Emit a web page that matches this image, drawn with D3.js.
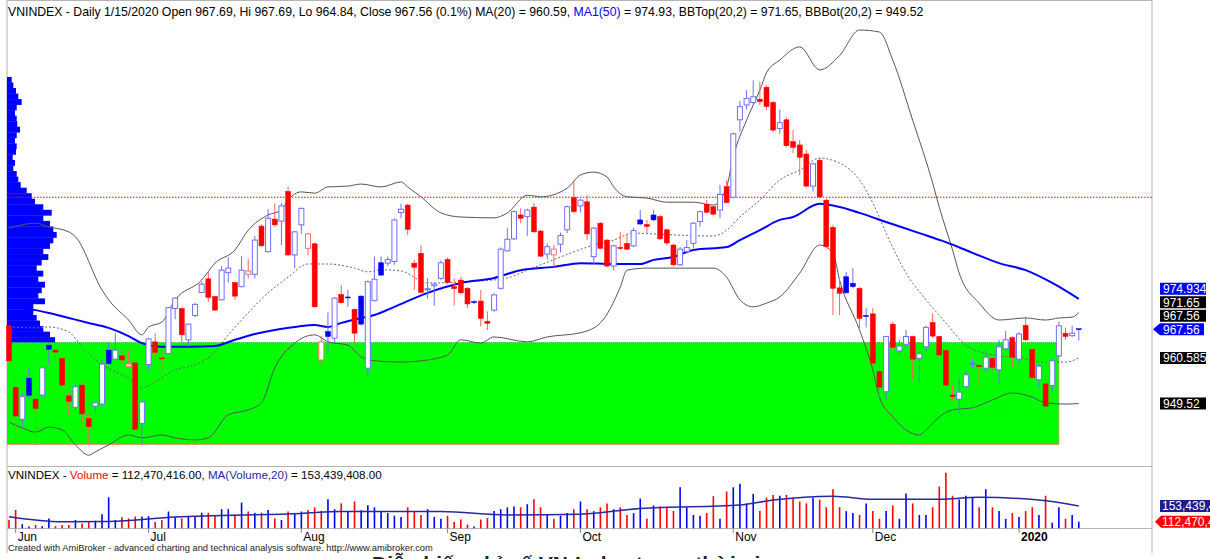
<!DOCTYPE html>
<html>
<head>
<meta charset="utf-8">
<script src="https://cdn.jsdelivr.net/npm/d3@7"></script>
<style>
body { margin: 0; background: #fff; }
svg { display: block; font-family: "Liberation Sans", Arial, sans-serif; }
</style>
</head>
<body>
<div id="chart"></div>
<script>
// daily bars, 5/31/2019 .. 1/15/2020
var opens = [968.4,953.5,945.7,955.7,950.6,951.6,963.7,962.5,960.5,951.4,948.6,954.0,945.9,948.9,949.4,962.5,960.3,961.1,958.5,959.4,
  944.7,959.0,964.5,960.6,961.7,972.6,972.6,965.0,970.9,976.5,979.8,975.5,974.7,981.3,978.9,977.9,980.9,980.9,992.6,986.4,
  994.3,993.8,1001.0,985.6,992.9,987.2,988.3,960.1,967.0,965.4,976.0,975.4,972.4,975.6,958.1,974.5,983.7,983.6,984.0,995.9,
  997.7,983.6,986.0,977.2,978.1,979.9,984.5,977.9,979.5,977.5,974.3,974.4,969.5,972.2,977.5,986.6,989.5,995.3,994.9,997.2,
  991.4,985.8,985.6,988.2,991.7,999.5,997.5,998.5,985.2,993.3,989.2,982.9,987.4,988.4,987.8,994.1,993.0,995.3,994.9,991.7,
  988.0,983.2,986.4,988.4,993.7,997.9,997.3,996.5,1002.2,999.6,1018.4,1022.0,1022.6,1023.4,1026.3,1022.6,1016.3,1018.4,1013.1,1012.3,
  1010.1,1002.3,1008.6,998.9,992.3,977.6,980.3,978.7,977.5,970.9,971.3,957.3,952.4,968.8,962.3,963.9,965.8,960.5,963.3,969.2,
  965.8,962.4,951.6,950.6,953.6,959.2,958.8,958.1,960.5,957.7,962.8,965.5,960.3,968.5,962.7,955.3,954.3,953.9,961.1,966.6,
  966.0,967.69];
var highs = [968.5,955.7,952.1,958.1,951.1,958.5,963.9,964.3,960.6,952.3,954.6,954.8,947.2,949.9,960.1,964.3,966.6,962.9,962.5,959.6,
  950.2,965.5,966.6,962.9,973.0,975.3,972.8,969.0,974.0,979.1,981.5,975.6,982.9,985.0,979.0,985.4,984.6,990.2,993.0,996.7,
  998.1,998.2,1002.2,991.4,997.1,991.0,988.6,965.9,971.6,975.3,978.3,977.1,972.6,975.8,979.4,985.2,985.2,985.2,994.5,998.0,
  998.0,984.4,988.0,980.0,978.8,984.3,985.0,979.9,980.3,977.8,974.6,977.1,971.9,976.3,987.4,992.1,996.4,996.9,996.8,998.2,
  991.7,988.4,988.0,991.0,997.6,1003.4,999.2,1000.1,992.4,993.6,989.5,988.1,991.2,990.7,992.2,996.5,994.1,996.5,995.2,992.0,
  988.3,987.5,989.2,993.6,996.4,998.9,997.6,1002.6,1003.8,1015.3,1023.0,1025.6,1028.0,1027.6,1026.8,1023.0,1020.9,1019.0,1015.9,1013.5,
  1011.1,1008.0,1009.0,999.2,992.9,979.9,981.5,982.4,977.8,972.7,972.7,960.5,966.0,969.4,965.0,967.4,966.0,962.0,968.5,971.4,
  966.0,962.6,954.0,955.7,957.4,960.5,959.0,962.5,960.7,965.0,967.2,966.0,966.9,970.5,962.9,959.0,957.0,960.5,969.4,968.0,
  968.4,967.69];
var lows = [959.5,940.7,943.6,950.6,939.5,951.0,958.9,959.9,953.8,946.5,947.6,944.7,939.5,947.2,949.2,958.9,959.9,959.1,958.4,943.0,
  939.5,957.7,960.1,957.0,961.5,970.0,964.3,963.3,970.5,976.3,974.2,972.0,974.5,978.9,974.7,977.7,979.9,979.9,987.6,986.2,
  992.5,988.0,985.4,982.4,990.7,985.5,972.8,958.5,961.7,964.5,973.8,973.0,964.3,968.5,956.0,974.3,980.5,982.9,983.2,994.5,
  990.4,977.1,976.3,975.0,973.3,979.5,978.5,973.3,976.0,972.7,973.7,968.2,967.4,971.8,977.2,986.4,989.2,993.3,990.2,991.0,
  985.0,984.5,982.7,986.2,990.9,995.8,995.9,989.2,983.2,987.0,982.6,981.9,986.8,986.8,987.5,992.8,990.7,993.8,989.2,988.0,
  983.0,982.9,986.0,987.2,992.4,995.7,995.2,994.5,998.1,999.3,1015.5,1020.9,1022.0,1022.0,1020.8,1015.4,1015.0,1011.8,1010.3,1005.0,
  1002.0,1001.0,999.4,987.3,971.0,971.0,976.2,977.5,967.8,968.0,959.0,951.2,950.4,962.5,961.3,962.9,955.3,954.8,962.0,965.5,
  960.5,953.8,950.0,947.0,953.3,958.1,953.6,957.1,957.7,954.3,962.5,958.1,959.3,964.7,955.6,953.6,945.5,952.4,960.8,965.0,
  965.7,964.84];
var closes = [959.9,946.5,951.2,951.5,948.3,958.2,962.7,962.0,954.0,950.1,953.6,947.0,943.9,949.7,959.1,959.2,962.5,960.1,959.1,943.3,
  949.9,965.2,961.9,960.5,972.8,975.1,966.2,968.8,973.6,978.5,975.3,972.2,981.9,982.4,975.6,981.9,981.7,989.2,987.8,994.5,
  992.9,997.5,985.6,991.2,996.9,990.7,973.0,964.5,965.8,975.1,974.0,975.2,966.6,968.8,979.1,979.7,980.7,984.5,994.1,996.7,
  991.8,982.6,976.5,977.4,978.5,983.7,978.9,977.4,976.4,973.7,974.0,970.2,969.0,975.9,987.0,989.4,996.1,994.5,996.5,991.2,
  985.3,987.6,987.0,990.3,997.3,996.1,998.9,990.7,992.1,987.2,982.9,987.8,987.2,987.0,991.5,993.1,992.5,994.1,989.5,988.5,
  983.2,987.0,987.4,993.3,996.1,995.95,995.5,1000.3,998.3,1015.0,1021.6,1023.6,1024.0,1022.8,1021.6,1015.9,1017.7,1012.1,1011.7,1009.3,
  1002.3,1007.7,999.7,987.6,977.5,976.3,976.4,977.9,970.2,970.65,959.3,953.5,965.8,963.2,963.5,965.8,960.3,961.6,968.0,965.9,
  961.3,954.0,951.2,952.3,956.5,959.3,958.5,960.8,958.3,963.3,965.0,960.8,966.4,965.0,955.8,958.6,948.9,959.9,968.4,965.8,
  966.6,967.56];
// volume, million shares
var volumes = [117,143,106,100,104,101,121,101,104,104,117,108,112,115,132,176,117,124,121,126,
  126,127,112,117,139,124,121,127,127,136,136,130,145,145,130,162,139,136,136,143,
  121,117,139,134,139,143,150,141,171,145,160,138,165,142,155,150,140,135,128,125,
  150,140,130,145,125,120,128,112,118,105,100,118,122,140,145,150,152,150,158,171,
  150,130,120,128,135,145,165,145,140,150,160,145,150,130,135,173,120,155,152,150,
  140,202,150,130,128,135,179,120,191,202,211,160,185,140,175,182,180,182,175,165,
  160,175,170,150,197,150,140,135,130,160,140,120,140,155,120,186,160,130,130,150,
  204,240,180,170,180,175,150,197,150,140,120,135,125,140,150,130,180,110,150,120,
  130,112.47];

// indicator readings: [bar index, value]
var bbTop = [[0,992.1],[4,993.3],[6,992.4],[9,991.2],[10,990.0],[14,977.1],[15,974.7],[18,969.8],[20,966.2],[21,968.1],
  [23,969.3],[25,974.7],[29,979.5],[31,983.6],[34,986.8],[36,991.6],[39,995.3],[41,996.5],[42,998.9],[44,1000.9],
  [46,1000.6],[48,1002.1],[51,1002.3],[53,1002.8],[56,1002.1],[59,1003.3],[60,1002.1],[62,999.7],[65,995.8],[68,994.8],
  [73,994.6],[75,995.8],[78,1000.1],[80,999.7],[84,1001.8],[86,1005.0],[88,1005.7],[90,1004.5],[91,1002.1],[93,999.7],
  [96,999.4],[99,998.4],[103,998.4],[106,997.7],[108,1002.1],[109,1009.4],[111,1018.3],[113,1025.6],[114,1029.8],[116,1032.9],
  [119,1036.1],[122,1030.5],[125,1034.0],[128,1040.2],[131,1039.7],[133,1032.9],[136,1018.3],[139,1003.1],[140,997.2],[142,986.8],
  [143,981.2],[146,973.9],[149,969.8],[153,970.3],[156,969.8],[158,970.3],[160,970.5],[161,971.65]];
var bbBot = [[0,945.0],[2,943.6],[4,942.6],[6,943.8],[8,943.1],[10,939.5],[12,937.0],[13,937.8],[15,939.5],[18,941.9],
  [20,941.2],[23,941.9],[25,941.2],[28,940.7],[30,941.2],[33,946.8],[36,948.0],[38,949.7],[40,958.2],[43,964.2],
  [46,966.2],[48,964.5],[51,963.7],[53,960.8],[54,960.1],[59,959.6],[63,960.1],[66,961.3],[68,965.0],[71,964.2],
  [73,965.7],[78,964.5],[81,965.7],[86,966.7],[89,969.1],[92,977.8],[93,981.9],[96,982.4],[106,982.4],[108,980.2],
  [110,974.7],[112,973.0],[114,973.9],[116,975.4],[119,981.2],[122,988.0],[124,986.1],[125,979.5],[128,967.4],[130,957.7],
  [131,951.1],[133,946.3],[137,941.9],[138,943.1],[140,946.3],[142,948.0],[145,948.5],[148,950.4],[151,952.1],[154,951.1],
  [156,949.7],[159,949.4],[161,949.52]];
var ma20 = [[0,968.1],[4,967.9],[6,968.1],[9,966.9],[11,963.3],[14,958.9],[16,957.2],[18,955.7],[20,953.3],[22,954.8],
  [25,957.7],[28,958.9],[31,962.0],[33,966.2],[35,969.8],[39,976.4],[42,980.2],[45,983.4],[48,983.4],[52,982.4],
  [54,981.5],[56,982.0],[59,981.7],[63,978.8],[71,979.3],[75,980.0],[78,981.9],[83,985.1],[87,987.5],[91,989.2],
  [94,990.9],[97,990.7],[101,990.4],[106,990.2],[108,991.6],[110,994.8],[113,998.9],[116,1003.8],[119,1006.2],[122,1009.1],
  [125,1007.9],[128,1003.8],[130,998.2],[132,990.9],[135,981.2],[138,974.7],[141,969.1],[144,963.7],[148,961.3],[152,960.6],
  [156,959.6],[159,959.6],[161,960.585]];
var ma50 = [[0,973.2],[4,972.2],[6,971.5],[9,970.3],[12,969.1],[15,967.9],[18,965.9],[20,964.2],[23,963.3],[27,963.3],
  [31,963.5],[34,965.0],[37,966.4],[40,967.4],[43,968.1],[46,968.6],[48,968.1],[50,969.1],[53,970.3],[55,971.0],
  [58,973.0],[63,976.4],[68,978.8],[73,980.0],[77,981.9],[82,982.7],[86,983.6],[91,983.4],[95,983.4],[97,984.4],
  [100,985.1],[103,986.8],[108,987.5],[110,989.2],[113,991.6],[116,994.1],[118,994.8],[122,998.0],[128,995.8],[132,993.6],
  [137,990.9],[141,988.7],[145,986.1],[149,983.6],[153,981.9],[157,978.8],[161,974.934]];
var volMA20 = [[0,125.6],[8,112.6],[15,113],[25,125],[44,134],[50,139],[65,139],[75,130],[86,132],[95,147],
  [110,156],[115,169],[124,179],[130,171],[140,171],[146,176],[155,169],[161,153.4]];

// volume-at-price profile, top bin first (1028.8 down to 964.3)
var profileVol = [4.7,6.3,9.0,11.3,14.7,9.7,8.0,9.7,10.3,13.0,9.7,8.0,9.7,9.0,5.7,8.0,6.3,9.7,11.3,13.7,
  19.7,24.7,28.0,36.3,44.7,36.3,43.0,46.3,49.7,46.3,43.0,36.3,41.3,34.7,29.7,36.3,31.3,38.0,34.7,31.3,
  38.0,26.3,26.3,29.7,33.0,36.3,43.0,48.0];
var profileTop = 1028.8, profileBottom = 964.3;
var valueHigh = 999.6;           // red dotted level
var zoneTop = 964.35, zoneBottom = 939.6, zoneEnd = 158;

var monthNames = ["Jun","Jul","Aug","Sep","Oct","Nov","Dec","2020"];
var monthStart = [1,21,44,66,86,109,130,152];

var W = 1210, H = 559;
var svg = d3.select("#chart").append("svg").attr("width", W).attr("height", H);
svg.append("rect").attr("width", W).attr("height", H).attr("fill", "#fff");

var left = 7, right = 1152;
var x = d3.scaleLinear().domain([0, 161]).range([9, 1078.8]);
var y = d3.scaleLinear().domain([940, 1040]).range([442.8, 30.8]);
var yVol = d3.scaleLinear().domain([95.3, 240]).range([528.3, 472.7]);

// frame
var frame = svg.append("g").attr("stroke", "#b4b4b4").attr("fill", "none");
frame.append("line").attr("x1", left).attr("x2", left).attr("y1", 0).attr("y2", 553);
frame.append("line").attr("x1", right).attr("x2", right).attr("y1", 0).attr("y2", 553);
frame.append("line").attr("x1", left).attr("x2", right).attr("y1", 0.5).attr("y2", 0.5);
frame.append("line").attr("x1", left).attr("x2", right).attr("y1", 466.5).attr("y2", 466.5);
frame.append("line").attr("x1", left).attr("x2", right).attr("y1", 528.5).attr("y2", 528.5);

// volume profile
var binH = (y(profileBottom) - y(profileTop)) / profileVol.length;
var px = d3.scaleLinear().domain([0, 50]).range([0, 50]);
svg.append("g").selectAll("rect").data(profileVol).enter().append("rect")
  .attr("x", left)
  .attr("y", function(d, i) { return y(profileTop) + i * binH; })
  .attr("width", function(d) { return px(d); })
  .attr("height", binH + 0.3)
  .attr("fill", "#0000ff");

// green zone
svg.append("rect").attr("x", left).attr("y", y(zoneTop))
  .attr("width", x(zoneEnd) - left).attr("height", y(zoneBottom) - y(zoneTop))
  .attr("fill", "#00ff00");
svg.append("path")
  .attr("d", "M" + left + "," + y(zoneTop) + "H" + x(zoneEnd) + "V" + y(zoneBottom) + "H" + left)
  .attr("stroke", "#ff5050").attr("stroke-dasharray", "1,1").attr("fill", "none");

svg.append("line").attr("x1", left).attr("x2", right).attr("y1", y(valueHigh)).attr("y2", y(valueHigh))
  .attr("stroke", "#ff0000").attr("stroke-dasharray", "1.5,1.5");

// indicator lines
var line = d3.line().x(function(d) { return x(d[0]); }).y(function(d) { return y(d[1]); }).curve(d3.curveMonotoneX);
svg.append("path").attr("d", line(bbTop)).attr("fill", "none").attr("stroke", "#555").attr("stroke-width", 1);
svg.append("path").attr("d", line(bbBot)).attr("fill", "none").attr("stroke", "#555").attr("stroke-width", 1);
svg.append("path").attr("d", line(ma20)).attr("fill", "none").attr("stroke", "#666").attr("stroke-width", 1).attr("stroke-dasharray", "2,2");
svg.append("path").attr("d", line(ma50)).attr("fill", "none").attr("stroke", "#0000ff").attr("stroke-width", 2);

// candles
var bars = d3.range(closes.length).map(function(i) {
  return { i: i, o: opens[i], h: highs[i], l: lows[i], c: closes[i], v: volumes[i],
    up: i > 0 && closes[i] > closes[i - 1], hollow: closes[i] > opens[i] };
});
function edge(d) { return d.up ? (d.hollow ? "#6f6fff" : "#0000ff") : (d.hollow ? "#ff7070" : "#ff0000"); }
var cg = svg.append("g").selectAll("g").data(bars).enter().append("g");
cg.append("line")
  .attr("x1", function(d) { return x(d.i); }).attr("x2", function(d) { return x(d.i); })
  .attr("y1", function(d) { return y(d.h); }).attr("y2", function(d) { return y(d.l); })
  .attr("stroke", function(d) { return d.up ? "#6f6fff" : "#ff6060"; });
cg.append("rect")
  .attr("x", function(d) { return x(d.i) - 2.5; })
  .attr("y", function(d) { return y(Math.max(d.o, d.c)); })
  .attr("width", 5)
  .attr("height", function(d) { return Math.max(1, y(Math.min(d.o, d.c)) - y(Math.max(d.o, d.c))); })
  .attr("fill", function(d) { return d.hollow ? "#fff" : edge(d); })
  .attr("stroke", edge)
  .attr("stroke-width", function(d) { return d.hollow ? 1 : 0.5; });

// volume bars
svg.append("g").selectAll("line").data(bars).enter().append("line")
  .attr("x1", function(d) { return x(d.i); }).attr("x2", function(d) { return x(d.i); })
  .attr("y1", yVol(95.3)).attr("y2", function(d) { return yVol(d.v); })
  .attr("stroke", function(d) { return d.up ? "#0000ff" : "#ff0000"; })
  .attr("stroke-width", 1.6);
var vline = d3.line().x(function(d) { return x(d[0]); }).y(function(d) { return yVol(d[1]); }).curve(d3.curveMonotoneX);
svg.append("path").attr("d", vline(volMA20)).attr("fill", "none").attr("stroke", "#2828a0").attr("stroke-width", 1.5);

// titles
var t1 = svg.append("text").attr("x", 8).attr("y", 16).attr("font-size", 12.25).attr("fill", "#000");
t1.append("tspan").text("VNINDEX - Daily 1/15/2020 Open 967.69, Hi 967.69, Lo 964.84, Close 967.56 (0.1%) MA(20) = 960.59, ");
t1.append("tspan").attr("fill", "#0000ff").text("MA1(50)");
t1.append("tspan").text(" = 974.93, BBTop(20,2) = 971.65, BBBot(20,2) = 949.52");

var t2 = svg.append("text").attr("x", 8).attr("y", 479).attr("font-size", 11.6).attr("fill", "#000");
t2.append("tspan").text("VNINDEX - ");
t2.append("tspan").attr("fill", "#ff0000").text("Volume");
t2.append("tspan").text(" = 112,470,416.00, ");
t2.append("tspan").attr("fill", "#2828a0").text("MA(Volume,20)");
t2.append("tspan").text(" = 153,439,408.00");

// month axis
var ax = svg.append("g");
ax.selectAll("line").data(monthStart).enter().append("line")
  .attr("x1", function(d) { return x(d); }).attr("x2", function(d) { return x(d); })
  .attr("y1", 528).attr("y2", 533).attr("stroke", "#888");
ax.selectAll("text").data(monthNames).enter().append("text")
  .attr("x", function(d, i) { return x(monthStart[i]) + 2; }).attr("y", 541)
  .attr("font-size", 12).attr("font-weight", function(d) { return d === "2020" ? "bold" : "normal"; })
  .text(function(d) { return d; });

svg.append("text").attr("x", 8).attr("y", 551).attr("font-size", 9.3).attr("fill", "#222")
  .text("Created with AmiBroker - advanced charting and technical analysis software. http://www.amibroker.com");
svg.append("text").attr("x", 372).attr("y", 571).attr("font-size", 21).attr("font-weight", "bold").attr("fill", "#222")
  .text("Diễn biến chỉ số VN-Index trong thời gian qua");

// right axis value labels
var priceLabels = [
  { v: ma50[ma50.length - 1][1], txt: "974.934", bg: "#0000ff" },
  { v: bbTop[bbTop.length - 1][1], txt: "971.65", bg: "#000" },
  { v: closes[closes.length - 1], txt: "967.56", bg: "#000" },
  { v: closes[closes.length - 1], txt: "967.56", bg: "#0000ff", arrow: true },
  { v: ma20[ma20.length - 1][1], txt: "960.585", bg: "#000" },
  { v: bbBot[bbBot.length - 1][1], txt: "949.52", bg: "#000" }
];
var gap = 13.5, arrowIdx = 3;
priceLabels.forEach(function(p) { p.y = y(p.v); });
for (var k = arrowIdx - 1; k >= 0; k--) {
  priceLabels[k].y = Math.min(priceLabels[k].y, priceLabels[k + 1].y - gap);
}
var pl = svg.append("g").selectAll("g").data(priceLabels).enter().append("g");
pl.append("path").attr("d", function(d) {
    var t = d.y - 6, b = d.y + 6;
    return d.arrow ? "M1153," + d.y + "L1160," + t + "H1204V" + b + "H1160Z" : "M1160," + t + "H1206V" + b + "H1160Z";
  }).attr("fill", function(d) { return d.bg; });
pl.append("text").attr("x", 1163).attr("y", function(d) { return d.y + 4.5; })
  .attr("font-size", 12).attr("fill", "#fff").text(function(d) { return d.txt; });

var volLabels = [
  { v: volMA20[volMA20.length - 1][1], txt: "153,439,408", bg: "#1c1c8c" },
  { v: volumes[volumes.length - 1], txt: "112,470,416", bg: "#ff0000", arrow: true }
];
volLabels[0].y = yVol(volLabels[0].v);
volLabels[1].y = Math.max(yVol(volLabels[1].v), volLabels[0].y + 15);
var vl = svg.append("g").selectAll("g").data(volLabels).enter().append("g");
vl.append("path").attr("d", function(d) {
    var t = d.y - 6, b = d.y + 6;
    return d.arrow ? "M1155," + d.y + "L1161," + t + "H1215V" + b + "H1161Z" : "M1160," + t + "H1215V" + b + "H1160Z";
  }).attr("fill", function(d) { return d.bg; });
vl.append("text").attr("x", 1162).attr("y", function(d) { return d.y + 4.5; })
  .attr("font-size", 12).attr("fill", "#fff").text(function(d) { return d.txt; });
</script>
</body>
</html>
